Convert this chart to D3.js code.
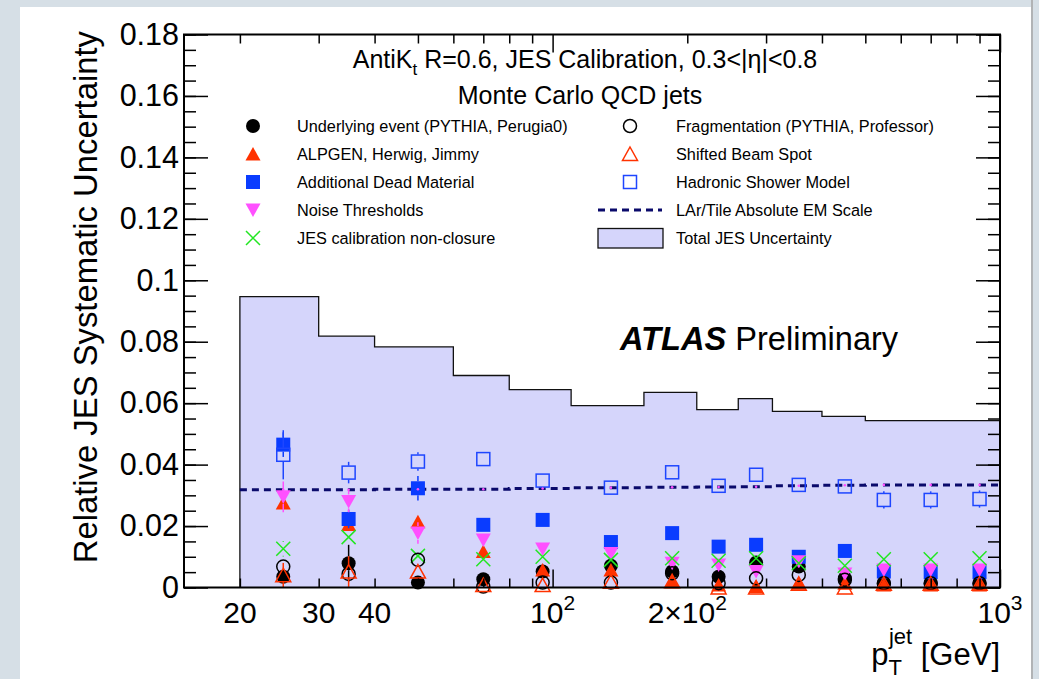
<!DOCTYPE html>
<meta charset="utf-8">
<script src="https://cdn.jsdelivr.net/npm/d3@7"></script>
<style>
  body { margin: 0; background: #d6dfe6; }
  text { font-family: "Liberation Sans", Arial, Helvetica, sans-serif; fill: #000; }
</style>
<div id="chart"></div>
<script>

// pT bins [GeV]
var ptEdges   = [20, 30, 40, 60, 80, 110, 160, 210, 260, 310, 400, 500, 600, 800, 1000];
var ptCenters = [25, 35, 50, 70, 95, 135, 185, 235, 285, 355, 450, 550, 700, 900];

// total JES uncertainty (band) and LAr/Tile EM scale (dashed)
var totalJES = [0.0947, 0.0818, 0.0783, 0.0690, 0.0644, 0.0592, 0.0635, 0.0579, 0.0615, 0.0573, 0.0557, 0.0543, 0.0543, 0.0543];
var larEM    = [0.0318, 0.0318, 0.0320, 0.0320, 0.0322, 0.0325, 0.0326, 0.0327, 0.0328, 0.0331, 0.0333, 0.0334, 0.0334, 0.0334];

// individual contributions
var underlying = [0.0035, 0.0079, 0.0016, 0.0027, 0.0052, 0.0071, 0.0052, 0.0035, 0.0081, 0.0068, 0.0030, 0.0012, 0.0012, 0.0012];
var underlyingErr = [0.002, 0.006, 0.001, 0.002, 0.002, 0.001, 0.001, 0.001, 0.001, 0.001, 0.001, 0.001, 0.001, 0.001];
var alpgen     = [0.0275, 0.0205, 0.0214, 0.0117, 0.0057, 0.0057, 0.0019, 0.0008, 0.0003, 0.0014, 0.0014, 0.0008, 0.0008, 0.0008];
var deadMat    = [0.0465, 0.0223, 0.0323, 0.0204, 0.0220, 0.0148, 0.0177, 0.0133, 0.0139, 0.0100, 0.0119, 0.0052, 0.0050, 0.0050];
var deadMatErr = [0.004, 0.003, 0.004, 0.002, 0.0015, 0.001, 0.001, 0.001, 0.001, 0.001, 0.001, 0.001, 0.001, 0.001];
var noise      = [0.0295, 0.0280, 0.0177, 0.0155, 0.0125, 0.0111, 0.0079, 0.0073, 0.0052, 0.0084, 0.0044, 0.0057, 0.0057, 0.0057];
var noiseErr   = [0.005, 0.0035, 0.0035, 0.002, 0.001, 0.001, 0.001, 0.001, 0.001, 0.001, 0.001, 0.001, 0.001, 0.001];
var closure    = [0.0126, 0.0164, 0.0103, 0.0092, 0.0100, 0.0090, 0.0095, 0.0087, 0.0095, 0.0079, 0.0071, 0.0092, 0.0092, 0.0095];
var closureErr = [0.0025, 0.001, 0.001, 0.001, 0.001, 0.001, 0.001, 0.001, 0.001, 0.001, 0.001, 0.001, 0.001, 0.001];
var fragment   = [0.0068, 0.0044, 0.0090, 0.0003, 0.0016, 0.0016, 0.0046, 0.0014, 0.0030, 0.0041, 0.0025, 0.0014, 0.0014, 0.0014];
var beamSpot   = [0.0040, 0.0052, 0.0052, 0.0008, 0.0008, 0.0019, 0.0020, 0.0000, 0.0000, 0.0012, 0.0000, 0.0012, 0.0012, 0.0012];
var beamSpotErr = [0.004, 0.005, 0.002, 0.001, 0.001, 0.001, 0.001, 0.001, 0.001, 0.001, 0.001, 0.001, 0.001, 0.001];
var hadShower  = [0.0432, 0.0374, 0.0410, 0.0418, 0.0348, 0.0325, 0.0375, 0.0331, 0.0367, 0.0334, 0.0329, 0.0285, 0.0285, 0.0288];
var hadShowerErr = [0.008, 0.0035, 0.003, 0.002, 0.0015, 0.001, 0.001, 0.001, 0.001, 0.001, 0.001, 0.0028, 0.0028, 0.0028];

// axis ticks and labels
var yTicks = [0, 0.02, 0.04, 0.06, 0.08, 0.1, 0.12, 0.14, 0.16, 0.18];
var yMinor = d3.range(0, 37).map(function(i){ return i * 0.005; });
var xMajor = [100, 1000];
var xMinor = [20, 30, 40, 50, 60, 70, 80, 90, 200, 300, 400, 500, 600, 700, 800, 900];
var xLabelVals = [20, 30, 40, 100, 200, 1000];
var xLabelBase = ["20", "30", "40", "10", "2\u00d710", "10"];
var xLabelSup  = ["", "", "", "2", "2", "3"];

var W = 1039, H = 679;
var svg = d3.select("#chart").append("svg")
    .attr("width", W).attr("height", H);

// page panel
svg.append("rect").attr("width", W).attr("height", H).attr("fill", "#d6dfe6");
svg.append("rect").attr("x", 20).attr("y", 7).attr("width", 1011).attr("height", H - 7).attr("fill", "#fff");
svg.append("line").attr("x1", 1032).attr("x2", 1032).attr("y1", 0).attr("y2", H)
    .attr("stroke", "#a4a4a4").attr("stroke-width", 1.5);

var x = d3.scaleLog().domain([15, 1000]).range([184, 1000]);
var y = d3.scaleLinear().domain([0, 0.18]).range([587.5, 34.5]);

// total uncertainty band
var band = ptEdges.map(function(e, i){ return { x: e, v: totalJES[Math.min(i, totalJES.length - 1)] }; });
svg.append("path")
    .datum(band)
    .attr("fill", "#d5d5fb")
    .attr("d", d3.area().curve(d3.curveStepAfter)
      .x(function(d){ return x(d.x); })
      .y0(y(0))
      .y1(function(d){ return y(d.v); }));
svg.append("path")
    .datum([{ x: 20, v: 0 }].concat(band))
    .attr("fill", "none")
    .attr("stroke", "#111")
    .attr("stroke-width", 1.3)
    .attr("d", d3.line().curve(d3.curveStepAfter)
      .x(function(d){ return x(d.x); })
      .y(function(d){ return y(d.v); }));

// LAr/Tile EM scale
var lar = ptEdges.map(function(e, i){ return { x: e, v: larEM[Math.min(i, larEM.length - 1)] }; });
svg.append("path")
    .datum(lar)
    .attr("fill", "none")
    .attr("stroke", "#0a0a6b")
    .attr("stroke-width", 3)
    .attr("stroke-dasharray", "7,5")
    .attr("d", d3.line().curve(d3.curveStepAfter)
      .x(function(d){ return x(d.x); })
      .y(function(d){ return y(d.v); }));

// marker shapes
function marker(g, type, color) {
  if (type === "circle" || type === "circleOpen") {
    g.append("circle").attr("r", type === "circle" ? 7 : 6.5)
      .attr("fill", type === "circle" ? color : "none")
      .attr("stroke", color).attr("stroke-width", type === "circle" ? 0 : 1.5);
  } else if (type === "square" || type === "squareOpen") {
    var a = type === "square" ? 7 : 6.5;
    g.append("rect").attr("x", -a).attr("y", -a).attr("width", 2 * a).attr("height", 2 * a)
      .attr("fill", type === "square" ? color : "none")
      .attr("stroke", color).attr("stroke-width", type === "square" ? 0 : 1.5);
  } else if (type === "triUp" || type === "triUpOpen") {
    g.append("path").attr("d", "M0,-7L7.5,6.5L-7.5,6.5Z")
      .attr("fill", type === "triUp" ? color : "none")
      .attr("stroke", color).attr("stroke-width", type === "triUp" ? 0 : 1.5);
  } else if (type === "triDown") {
    g.append("path").attr("d", "M0,7L7.5,-6.5L-7.5,-6.5Z").attr("fill", color);
  } else if (type === "cross") {
    g.append("path").attr("d", "M-7,-7L7,7M-7,7L7,-7")
      .attr("stroke", color).attr("stroke-width", 1.5).attr("fill", "none");
  }
}

var series = [
  { name: "Underlying event (PYTHIA, Perugia0)", vals: underlying, err: underlyingErr, type: "circle", color: "#000000" },
  { name: "ALPGEN, Herwig, Jimmy", vals: alpgen, err: null, type: "triUp", color: "#ff3200" },
  { name: "Additional Dead Material", vals: deadMat, err: deadMatErr, type: "square", color: "#0a3cff" },
  { name: "Noise Thresholds", vals: noise, err: noiseErr, type: "triDown", color: "#ff50ff" },
  { name: "JES calibration non-closure", vals: closure, err: closureErr, type: "cross", color: "#22e622" },
  { name: "Fragmentation (PYTHIA, Professor)", vals: fragment, err: null, type: "circleOpen", color: "#000000" },
  { name: "Shifted Beam Spot", vals: beamSpot, err: beamSpotErr, type: "triUpOpen", color: "#ff3200" },
  { name: "Hadronic Shower Model", vals: hadShower, err: hadShowerErr, type: "squareOpen", color: "#1e46ff" }
];

var pts = svg.append("g");
series.forEach(function(s) {
  var g = pts.append("g");
  s.vals.forEach(function(v, i) {
    var cx = x(ptCenters[i]), cy = y(v);
    if (s.err) {
      var top = y(v + s.err[i]), bot = y(Math.max(0, v - s.err[i]));
      if (cy - top > 7) g.append("line").attr("x1", cx).attr("x2", cx).attr("y1", top).attr("y2", cy - 7)
          .attr("stroke", s.color).attr("stroke-width", 1.5);
      if (bot - cy > 7) g.append("line").attr("x1", cx).attr("x2", cx).attr("y1", cy + 7).attr("y2", bot)
          .attr("stroke", s.color).attr("stroke-width", 1.5);
    }
    marker(g.append("g").attr("transform", "translate(" + cx + "," + cy + ")"), s.type, s.color);
  });
});

// small markers on EM scale graph
svg.append("g").selectAll("circle")
  .data(ptCenters)
  .enter().append("circle")
    .attr("cx", function(d){ return x(d); })
    .attr("cy", function(d, i){ return y(larEM[i]); })
    .attr("r", 1.3)
    .attr("fill", "#ff50ff");

// axes (ticks inward on all four sides)
function ticks(g) {
  g.select(".domain").remove();
  g.selectAll(".tick line").attr("stroke", "#000").attr("stroke-width", 1.5);
}
svg.append("g").attr("transform", "translate(0,587.5)")
    .call(d3.axisBottom(x).tickValues(xMinor).tickSize(-9).tickFormat("")).call(ticks);
svg.append("g").attr("transform", "translate(0,587.5)")
    .call(d3.axisBottom(x).tickValues(xMajor).tickSize(-18).tickFormat("")).call(ticks);
svg.append("g").attr("transform", "translate(0,34.5)")
    .call(d3.axisTop(x).tickValues(xMinor).tickSize(-9).tickFormat("")).call(ticks);
svg.append("g").attr("transform", "translate(0,34.5)")
    .call(d3.axisTop(x).tickValues(xMajor).tickSize(-18).tickFormat("")).call(ticks);

svg.append("g").attr("transform", "translate(184,0)")
    .call(d3.axisLeft(y).tickValues(yMinor).tickSize(-12).tickFormat("")).call(ticks);
svg.append("g").attr("transform", "translate(184,0)")
    .call(d3.axisLeft(y).tickValues(yTicks).tickSize(-24).tickPadding(5)
      .tickFormat(function(d){ return d3.format("~g")(+d.toFixed(2)); }))
    .call(ticks)
    .selectAll("text").attr("font-size", 30.5).attr("font-family", "Liberation Sans, Arial, sans-serif");
svg.append("g").attr("transform", "translate(1000,0)")
    .call(d3.axisRight(y).tickValues(yMinor).tickSize(-12).tickFormat("")).call(ticks);
svg.append("g").attr("transform", "translate(1000,0)")
    .call(d3.axisRight(y).tickValues(yTicks).tickSize(-24).tickFormat("")).call(ticks);

// frame
svg.append("rect").attr("x", 184).attr("y", 34.5).attr("width", 816).attr("height", 553)
    .attr("fill", "none").attr("stroke", "#000").attr("stroke-width", 2);

// x tick labels
xLabelVals.forEach(function(v, i) {
  var t = svg.append("text").attr("x", x(v)).attr("y", 623)
      .attr("text-anchor", "middle").attr("font-size", 30);
  t.append("tspan").text(xLabelBase[i]);
  if (xLabelSup[i]) t.append("tspan").attr("dy", -13).attr("font-size", 21).text(xLabelSup[i]);
});

// axis titles
svg.append("text")
    .attr("transform", "translate(97,31) rotate(-90)")
    .attr("text-anchor", "end")
    .attr("font-size", 32.8)
    .text("Relative JES Systematic Uncertainty");

var xt = svg.append("text").attr("x", 1000).attr("y", 665).attr("text-anchor", "end").attr("font-size", 31);
xt.append("tspan").text("p");
xt.append("tspan").attr("font-size", 22).attr("dy", 10).text("T");
xt.append("tspan").attr("font-size", 22).attr("dx", -13).attr("dy", -31).text("jet");
xt.append("tspan").attr("dy", 21).text(" [GeV]");

// titles
var t1 = svg.append("text").attr("x", 585).attr("y", 68).attr("text-anchor", "middle").attr("font-size", 25);
t1.append("tspan").text("AntiK");
t1.append("tspan").attr("font-size", 17).attr("dy", 7).text("t");
t1.append("tspan").attr("dy", -7).text(" R=0.6, JES Calibration, 0.3<|\u03b7|<0.8");
svg.append("text").attr("x", 580).attr("y", 104).attr("text-anchor", "middle").attr("font-size", 25)
    .text("Monte Carlo QCD jets");

var at = svg.append("text").attr("x", 620).attr("y", 350).attr("font-size", 32.6);
at.append("tspan").attr("font-weight", "bold").attr("font-style", "italic").text("ATLAS");
at.append("tspan").text(" Preliminary");

// legend
var legRows = [126, 154, 182, 210, 238];
series.forEach(function(s, i) {
  var col = i < 5 ? 0 : 1, row = i < 5 ? i : i - 5;
  var mx = col === 0 ? 253 : 630, tx = col === 0 ? 297 : 676;
  marker(svg.append("g").attr("transform", "translate(" + mx + "," + legRows[row] + ")"), s.type, s.color);
  svg.append("text").attr("x", tx).attr("y", legRows[row] + 6).attr("font-size", 16.3).text(s.name);
});
svg.append("line").attr("x1", 598).attr("x2", 662).attr("y1", legRows[3]).attr("y2", legRows[3])
    .attr("stroke", "#0a0a6b").attr("stroke-width", 3).attr("stroke-dasharray", "7,5");
svg.append("text").attr("x", 676).attr("y", legRows[3] + 6).attr("font-size", 16.3).text("LAr/Tile Absolute EM Scale");
svg.append("rect").attr("x", 598).attr("y", 228.5).attr("width", 65).attr("height", 19.5)
    .attr("fill", "#d5d5fb").attr("stroke", "#111").attr("stroke-width", 1.3);
svg.append("text").attr("x", 676).attr("y", legRows[4] + 6).attr("font-size", 16.3).text("Total JES Uncertainty");

</script>
